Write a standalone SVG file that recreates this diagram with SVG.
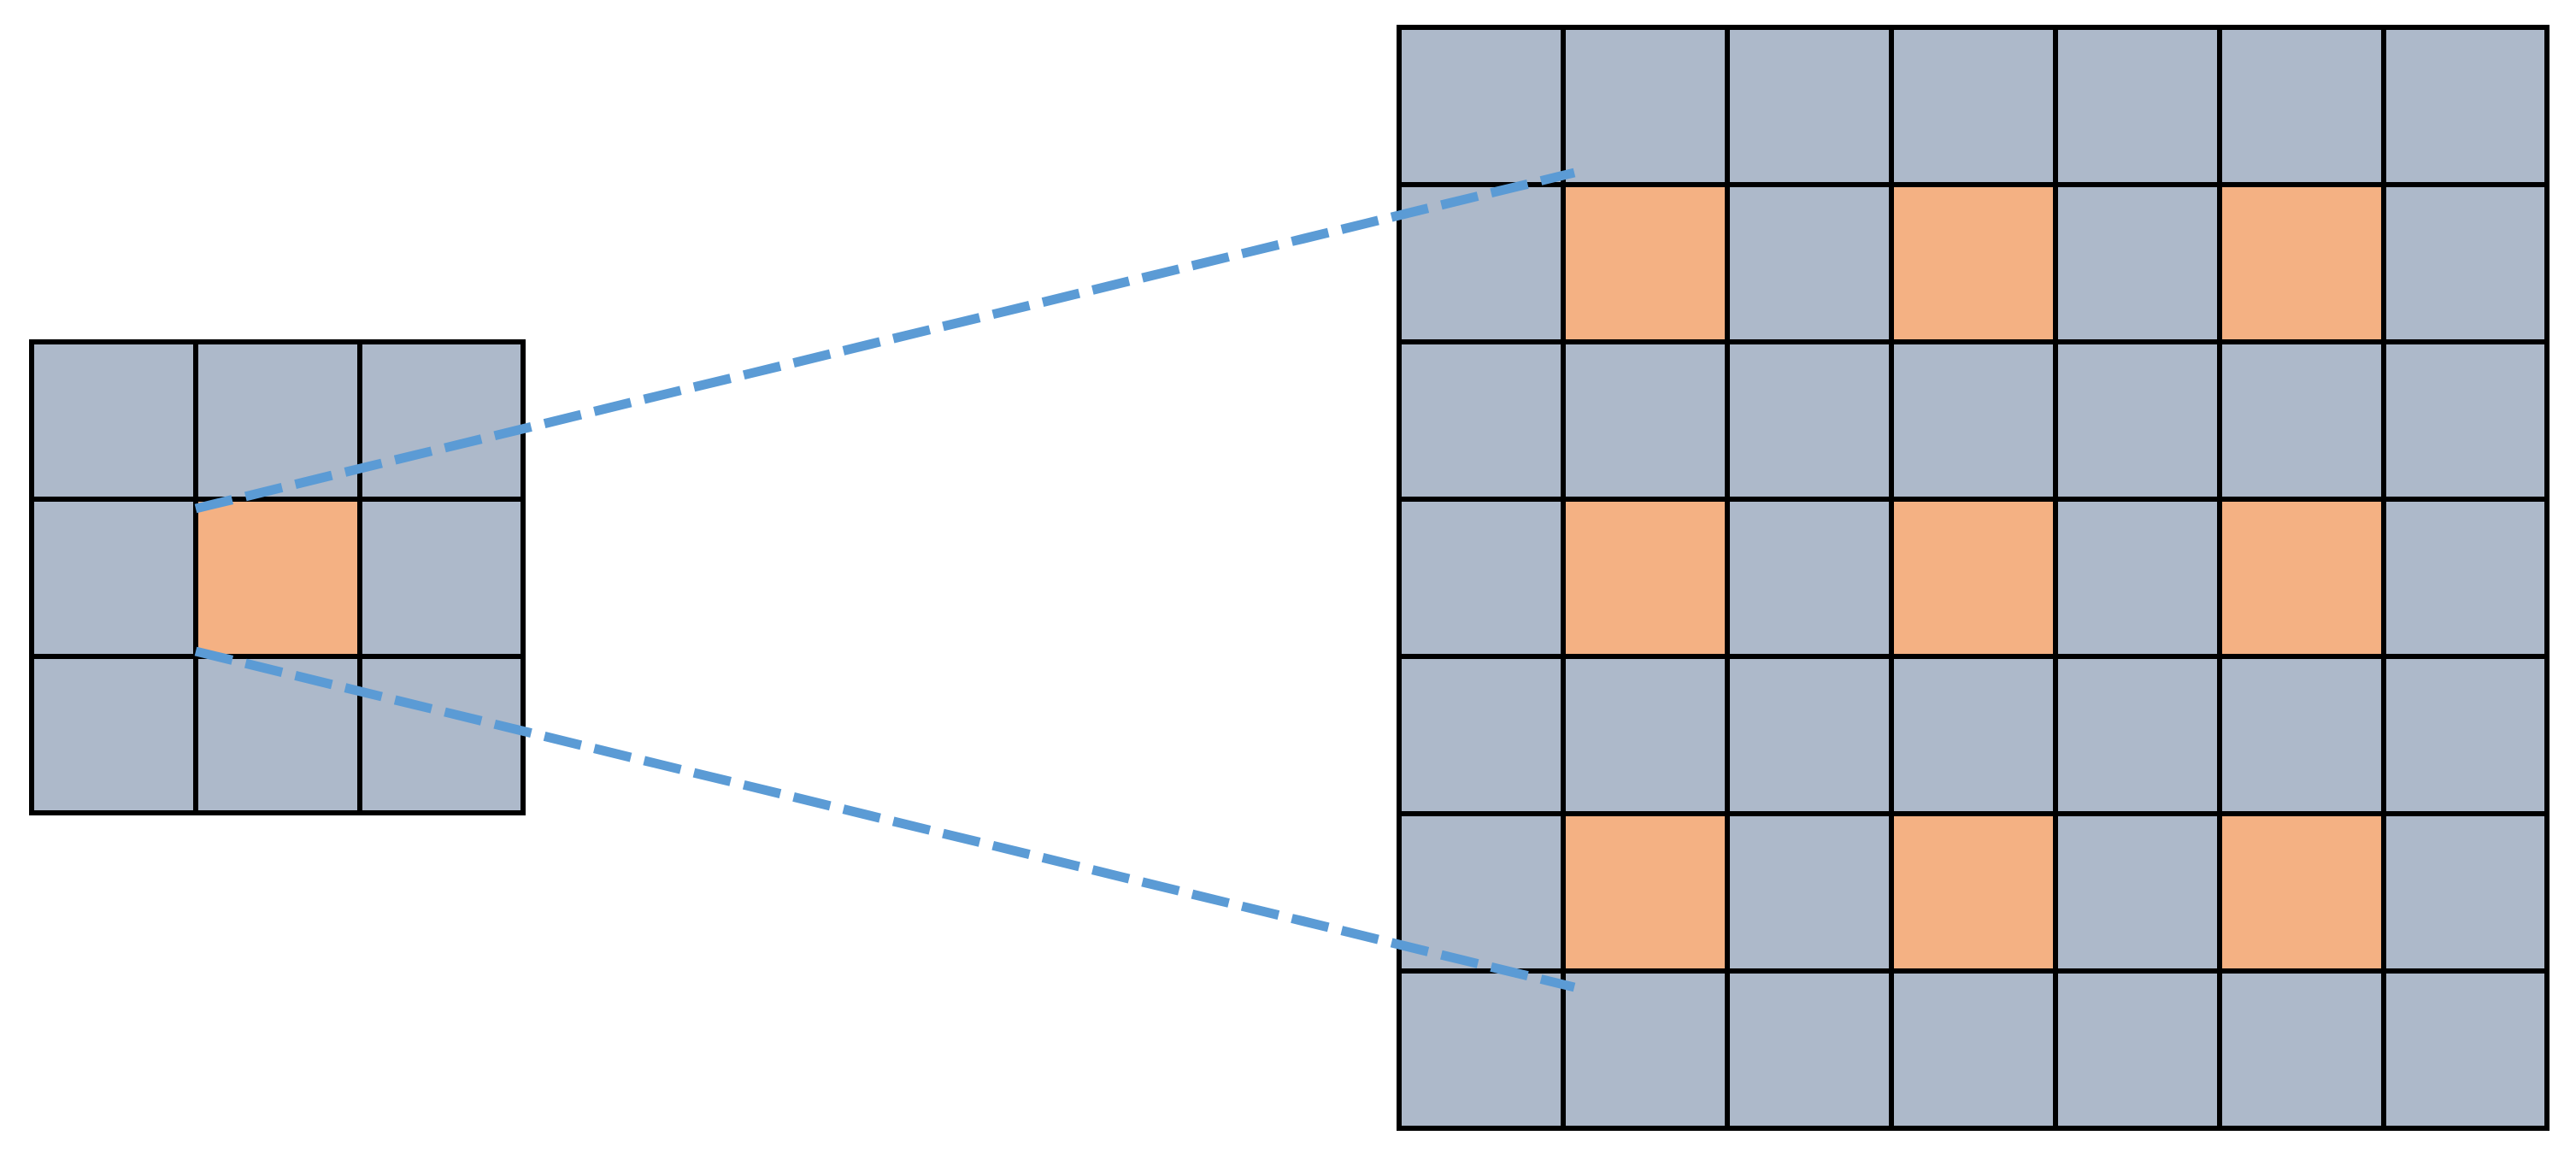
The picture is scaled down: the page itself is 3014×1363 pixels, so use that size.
<svg xmlns="http://www.w3.org/2000/svg" width="3014" height="1363" viewBox="0 0 3014 1363">
<style>
.g{fill:#ADB9CA;stroke:#000;stroke-width:6}
.o{fill:#F4B183;stroke:#000;stroke-width:6}
.d{stroke:#5B9BD5;stroke-width:11;stroke-dasharray:44 16;fill:none}
</style>
<rect width="3014" height="1363" fill="#fff"/>
<g id="small">
<rect class="g" x="37" y="400" width="575" height="551"/>
<rect class="o" x="229" y="584" width="192" height="184"/>
<path d="M229 400V951M421 400V951M37 584H612M37 768H612" stroke="#000" stroke-width="6"/>
</g>
<g id="large">
<rect class="g" x="1637" y="32" width="1343" height="1288"/>
<rect class="o" x="1829" y="216" width="192" height="184"/>
<rect class="o" x="2213" y="216" width="192" height="184"/>
<rect class="o" x="2597" y="216" width="192" height="184"/>
<rect class="o" x="1829" y="584" width="192" height="184"/>
<rect class="o" x="2213" y="584" width="192" height="184"/>
<rect class="o" x="2597" y="584" width="192" height="184"/>
<rect class="o" x="1829" y="952" width="192" height="184"/>
<rect class="o" x="2213" y="952" width="192" height="184"/>
<rect class="o" x="2597" y="952" width="192" height="184"/>
<path d="M1829 32V1320M2021 32V1320M2213 32V1320M2405 32V1320M2597 32V1320M2789 32V1320M1637 216H2980M1637 400H2980M1637 584H2980M1637 768H2980M1637 952H2980M1637 1136H2980" stroke="#000" stroke-width="6"/>
</g>
<g id="connectors">
<path class="d" d="M229 595L1842 202"/>
<path class="d" d="M229 762L1842 1155"/>
</g>
</svg>
